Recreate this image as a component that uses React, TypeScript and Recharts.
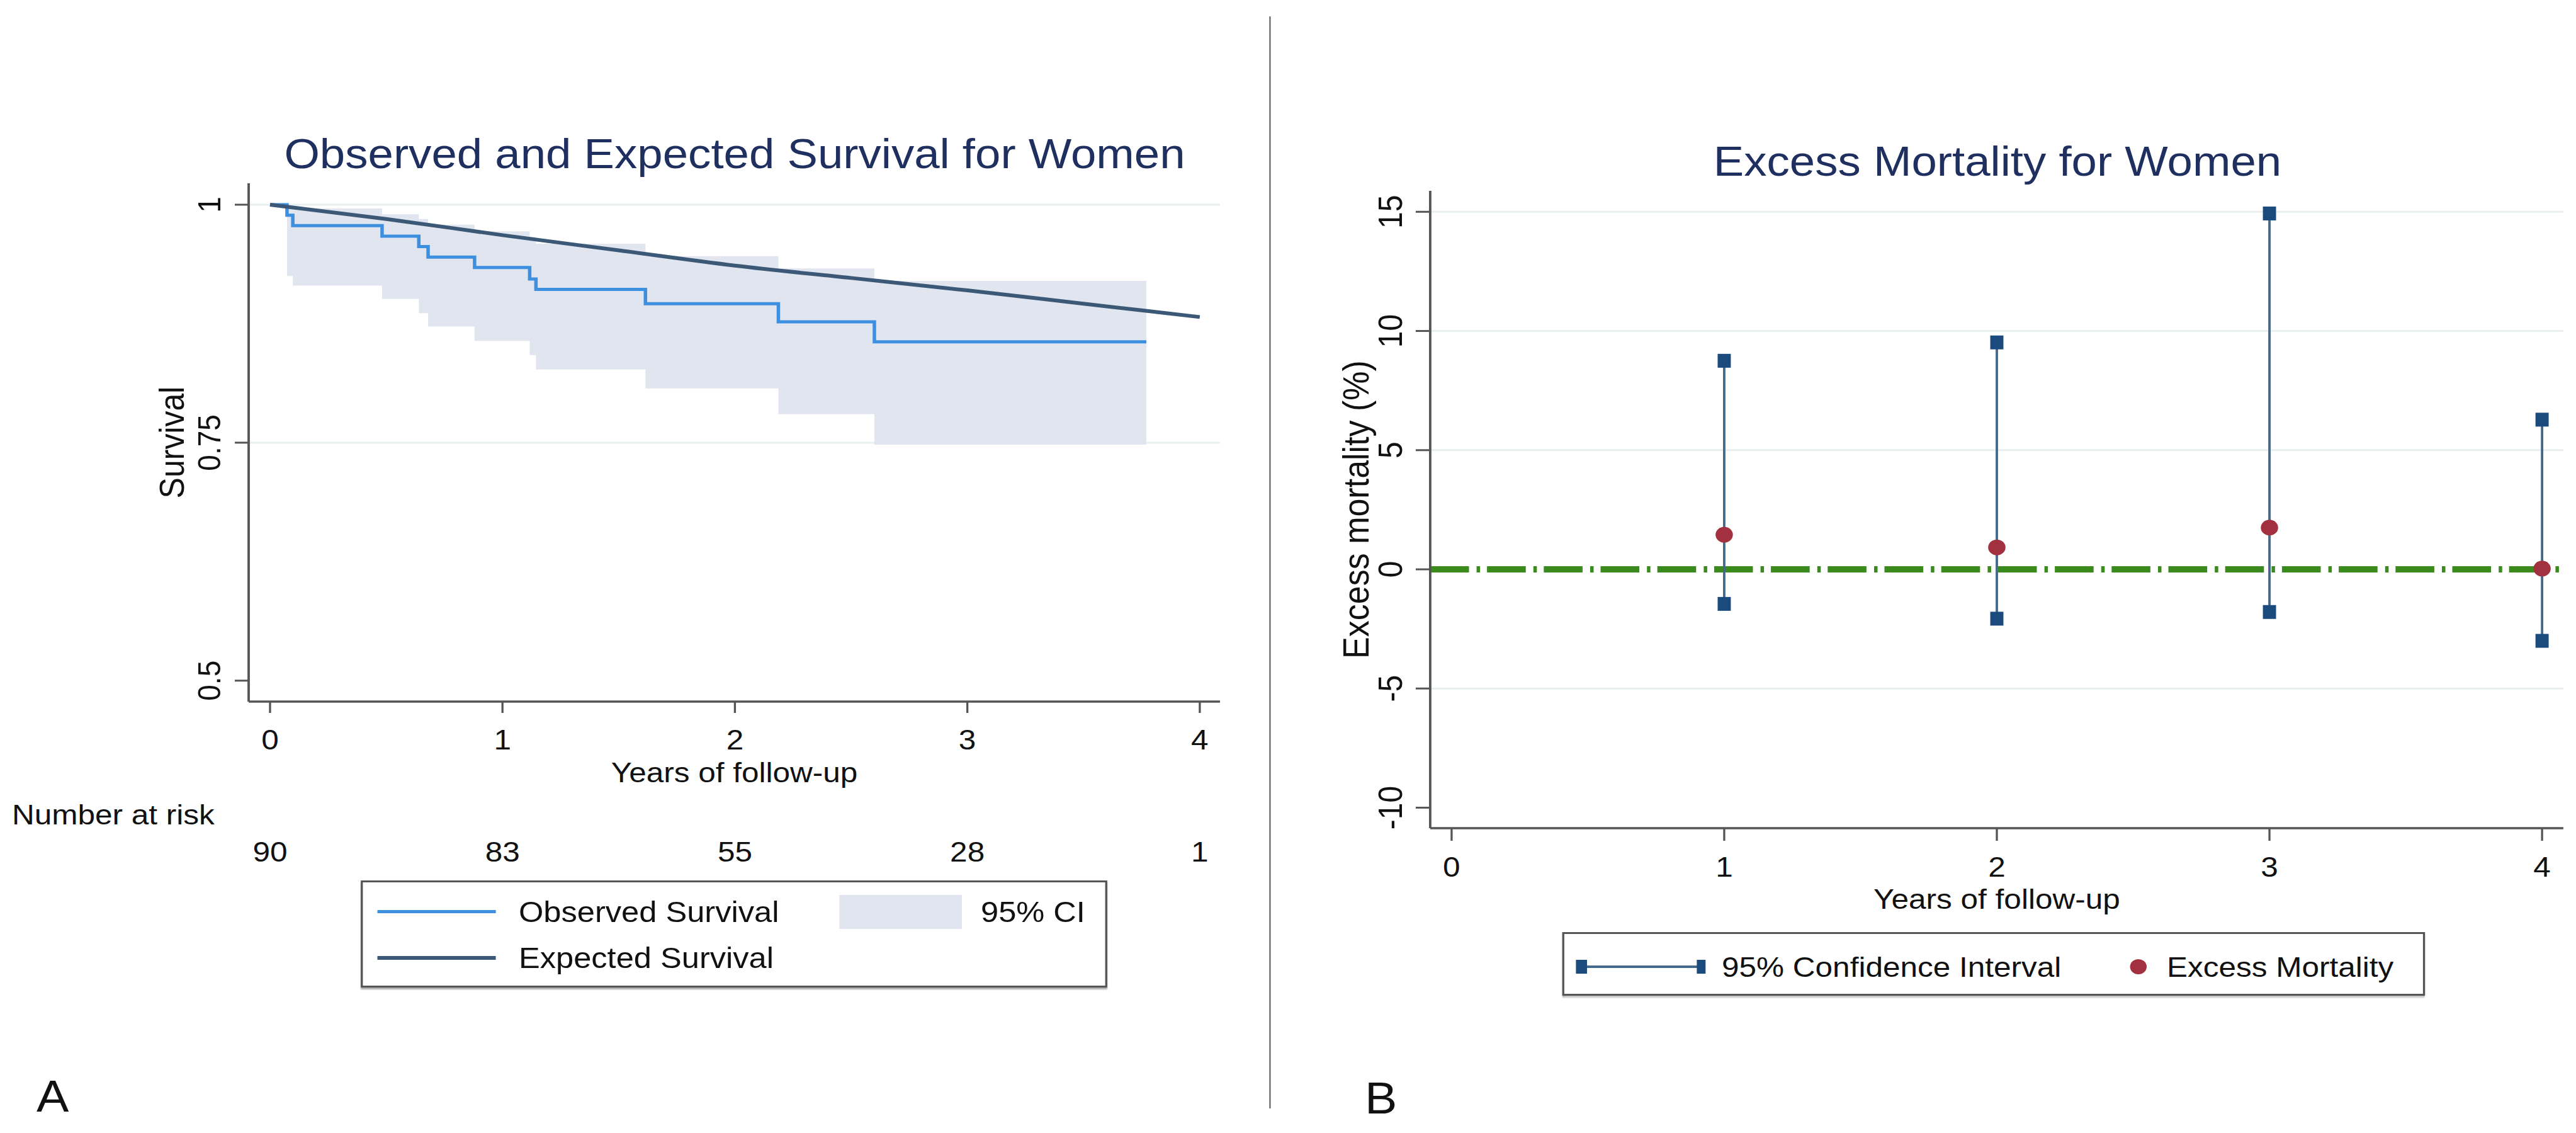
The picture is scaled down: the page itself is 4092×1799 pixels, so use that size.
import React from 'react';
import {
  ComposedChart,
  Line,
  Area,
  Scatter,
  XAxis,
  YAxis,
  CartesianGrid,
  ReferenceLine,
  Label,
} from 'recharts';

const FONT = '"Liberation Sans", Arial, sans-serif';
// the reference figure is stretched about 10% sideways, so we draw narrower and scale x
const SX = 1.1;
const px = (v: number) => v / SX;

// ---- Panel A: observed (Kaplan-Meier) vs expected survival
const kmTimes = [0, 0.073, 0.098, 0.482, 0.64, 0.68, 0.88, 1.117, 1.144, 1.615, 2.187, 2.6, 3.77];
const observedSurv = [1, 0.989, 0.978, 0.967, 0.956, 0.945, 0.934, 0.922, 0.911, 0.896, 0.877, 0.856, 0.856];
const ciLower = [1, 0.925, 0.915, 0.901, 0.886, 0.872, 0.857, 0.842, 0.827, 0.807, 0.78, 0.748, 0.748];
const ciUpper = [1, 0.998, 0.996, 0.99, 0.985, 0.979, 0.972, 0.966, 0.959, 0.946, 0.933, 0.92, 0.92];
const expectedTimes = [0, 0.5, 1, 1.5, 2, 2.5, 3, 3.5, 4];
const expectedSurv = [1, 0.985, 0.968, 0.952, 0.936, 0.923, 0.91, 0.896, 0.882];
const yearTicks = [0, 1, 2, 3, 4];
const numberAtRisk = [90, 83, 55, 28, 1];
const survTicks = [0.5, 0.75, 1];
const survGrid = [0.75, 1];

// ---- Panel B: excess mortality (%) by year
const years = [1, 2, 3, 4];
const excessMortality = [1.45, 0.92, 1.75, 0.03];
const emLower = [-1.45, -2.07, -1.79, -3.0];
const emUpper = [8.75, 9.52, 14.93, 6.28];
const emTicks = [-10, -5, 0, 5, 10, 15];
const emGrid = [-5, 5, 10, 15];

const bandData = kmTimes.map((t, i) => ({ t, ci: [ciLower[i], ciUpper[i]] }));
const observedData = kmTimes.map((t, i) => ({ t, s: observedSurv[i] }));
const expectedData = expectedTimes.map((t, i) => ({ t, s: expectedSurv[i] }));
const emData = years.map((year, i) => ({ year, em: excessMortality[i] }));

const C = {
  observed: '#3d8fe0',
  expected: '#3b5877',
  band: '#e1e5ef',
  grid: '#e8eff1',
  axis: '#555',
  title: '#1f3060',
  ci: '#44698d',
  ciEnd: '#1b4a7d',
  dot: '#a3303e',
  zero: '#3a8a1e',
};

function RotatedTick(props: any) {
  const { x, y, payload, fs } = props;
  return (
    <text
      x={x}
      y={y}
      transform={`rotate(-90 ${x} ${y})`}
      textAnchor="middle"
      fontSize={fs}
      fontFamily={FONT}
      fill="#111"
    >
      {payload.value}
    </text>
  );
}

const tickText = { fontSize: 45, fill: '#111', fontFamily: FONT };
const axisStyle = { stroke: C.axis, strokeWidth: 3.5 };

const abs = (left: number, top: number, extra: React.CSSProperties = {}): React.CSSProperties => ({
  position: 'absolute',
  left,
  top,
  fontFamily: FONT,
  lineHeight: 1,
  whiteSpace: 'nowrap',
  ...extra,
});

export default function App() {
  const leftW = px(2000);
  const rightLeft = px(2100);
  const rightW = px(1992);

  return (
    <div
      style={{
        position: 'absolute',
        left: 0,
        top: 0,
        width: px(4092),
        height: 1799,
        background: '#fff',
        transform: `scaleX(${SX})`,
        transformOrigin: '0 0',
        overflow: 'hidden',
      }}
    >
      {/* Panel A */}
      <div style={abs(px(1167) - 700, 211, { width: 1400, textAlign: 'center', fontSize: 66, color: C.title })}>
        Observed and Expected Survival for Women
      </div>
      <div style={{ position: 'absolute', left: 0, top: 0 }}>
        <ComposedChart
          width={leftW}
          height={1799}
          margin={{ top: 291, left: px(395) - 140, right: leftW - px(1938), bottom: 425 }}
        >
          <CartesianGrid vertical={false} horizontalValues={survGrid} stroke={C.grid} strokeWidth={3} />
          <XAxis
            dataKey="t"
            type="number"
            domain={[-0.092, 4.087]}
            ticks={yearTicks}
            allowDataOverflow
            interval={0}
            height={140}
            tickSize={18}
            tickMargin={26}
            axisLine={axisStyle}
            tickLine={{ stroke: C.axis, strokeWidth: 3 }}
            tick={tickText}
          >
            <Label value="Years of follow-up" position="insideBottom" offset={12} style={tickText} />
          </XAxis>
          <XAxis
            xAxisId="risk"
            dataKey="t"
            type="number"
            domain={[-0.092, 4.087]}
            ticks={yearTicks}
            allowDataOverflow
            interval={0}
            height={120}
            tickSize={6}
            tickMargin={76}
            axisLine={false}
            tickLine={false}
            tick={tickText}
            tickFormatter={(v: number) => String(numberAtRisk[yearTicks.indexOf(v)])}
          />
          <YAxis
            type="number"
            domain={[0.478, 1.0225]}
            ticks={survTicks}
            allowDataOverflow
            interval={0}
            width={140}
            tickSize={20}
            tickMargin={20.9}
            axisLine={axisStyle}
            tickLine={{ stroke: C.axis, strokeWidth: 3 }}
            tick={<RotatedTick fs={46} />}
          >
            <Label
              value="Survival"
              angle={-90}
              position="insideLeft"
              offset={28.6}
              style={{ textAnchor: 'middle', fontSize: 50, fill: '#111', fontFamily: FONT }}
            />
          </YAxis>
          <Area
            data={bandData}
            dataKey="ci"
            type="stepAfter"
            fill={C.band}
            fillOpacity={1}
            stroke="none"
            dot={false}
            activeDot={false}
            isAnimationActive={false}
          />
          <Line
            data={observedData}
            dataKey="s"
            type="stepAfter"
            stroke={C.observed}
            strokeWidth={5}
            dot={false}
            activeDot={false}
            isAnimationActive={false}
          />
          <Line
            data={expectedData}
            dataKey="s"
            type="monotone"
            stroke={C.expected}
            strokeWidth={6}
            dot={false}
            activeDot={false}
            isAnimationActive={false}
          />
        </ComposedChart>
      </div>
      <div style={abs(px(19), 1271, { fontSize: 45, color: '#111' })}>Number at risk</div>

      {/* legend A */}
      <div
        style={{
          position: 'absolute',
          left: px(573),
          top: 1398,
          width: px(1186),
          height: 170,
          boxSizing: 'border-box',
          border: '3px solid #555',
          boxShadow: '0 3px 2px #aaa',
          background: '#fff',
        }}
      >
        <div style={abs(px(26) - 3, 47 - 3, { width: px(189), height: 5, background: C.observed })} />
        <div style={abs(px(251) - 3, 50 - 3 - 23, { fontSize: 46, color: '#111' })}>Observed Survival</div>
        <div style={abs(px(760) - 3, 23 - 3, { width: px(195), height: 54, background: C.band })} />
        <div style={abs(px(985) - 3, 50 - 3 - 23, { fontSize: 46, color: '#111' })}>95% CI</div>
        <div style={abs(px(26) - 3, 120 - 3, { width: px(189), height: 6, background: C.expected })} />
        <div style={abs(px(251) - 3, 123 - 3 - 23, { fontSize: 46, color: '#111' })}>Expected Survival</div>
      </div>
      <div style={abs(px(58), 1706, { fontSize: 70, color: '#111' })}>A</div>

      {/* divider */}
      <div style={{ position: 'absolute', left: px(2016), top: 26, width: 2.7, height: 1734, background: '#666' }} />

      {/* Panel B */}
      <div style={abs(px(3173) - 700, 223, { width: 1400, textAlign: 'center', fontSize: 66, color: C.title })}>
        Excess Mortality for Women
      </div>
      <div style={{ position: 'absolute', left: rightLeft, top: 0 }}>
        <ComposedChart
          width={rightW}
          height={1799}
          margin={{ top: 303, left: px(2272) - rightLeft - 140, right: rightW - (px(4072) - rightLeft), bottom: 344 }}
        >
          <CartesianGrid vertical={false} horizontalValues={emGrid} stroke={C.grid} strokeWidth={3} />
          <XAxis
            dataKey="year"
            type="number"
            domain={[-0.0785, 4.078]}
            ticks={yearTicks}
            allowDataOverflow
            interval={0}
            height={140}
            tickSize={20}
            tickMargin={25}
            axisLine={axisStyle}
            tickLine={{ stroke: C.axis, strokeWidth: 3 }}
            tick={tickText}
          >
            <Label value="Years of follow-up" position="insideBottom" offset={12} style={tickText} />
          </XAxis>
          <YAxis
            type="number"
            domain={[-10.86, 15.88]}
            ticks={emTicks}
            allowDataOverflow
            interval={0}
            width={140}
            tickSize={20.9}
            tickMargin={20.1}
            axisLine={axisStyle}
            tickLine={{ stroke: C.axis, strokeWidth: 3 }}
            tick={<RotatedTick fs={48} />}
          >
            <Label
              value="Excess mortality (%)"
              angle={-90}
              position="insideLeft"
              offset={32.7}
              style={{ textAnchor: 'middle', fontSize: 52, fill: '#111', fontFamily: FONT }}
            />
          </YAxis>
          <ReferenceLine y={0} stroke={C.zero} strokeWidth={10} strokeDasharray="56 11 5 10" />
          {years.map((year, i) => (
            <Line
              key={year}
              data={[
                { year, v: emLower[i] },
                { year, v: emUpper[i] },
              ]}
              dataKey="v"
              type="linear"
              stroke={C.ci}
              strokeWidth={3.5}
              dot={(p: any) =>
                p.cy == null ? (
                  <g key={p.key ?? p.index} />
                ) : (
                  <rect key={p.key ?? p.index} x={p.cx - 9.5} y={p.cy - 11} width={19} height={22} fill={C.ciEnd} />
                )
              }
              activeDot={false}
              isAnimationActive={false}
            />
          ))}
          <Scatter
            data={emData}
            dataKey="em"
            isAnimationActive={false}
            shape={(p: any) => <circle cx={p.cx} cy={p.cy} r={12.5} fill={C.dot} />}
          />
        </ComposedChart>
      </div>

      {/* legend B */}
      <div
        style={{
          position: 'absolute',
          left: px(2482),
          top: 1480,
          width: px(1370),
          height: 101,
          boxSizing: 'border-box',
          border: '3px solid #555',
          boxShadow: '0 3px 2px #aaa',
          background: '#fff',
        }}
      >
        <svg style={{ position: 'absolute', left: px(14), top: 55 - 3 - 15 }} width={px(210)} height={30}>
          <line x1={px(13)} y1={15} x2={px(205)} y2={15} stroke={C.ci} strokeWidth={4} />
          <rect x={px(13) - 8} y={4} width={16} height={22} fill={C.ciEnd} />
          <rect x={px(205) - 8} y={4} width={16} height={22} fill={C.ciEnd} />
        </svg>
        <div style={abs(px(253) - 3, 55 - 3 - 22, { fontSize: 45, color: '#111' })}>95% Confidence Interval</div>
        <svg style={{ position: 'absolute', left: px(915) - 3 - 15, top: 55 - 3 - 15 }} width={30} height={30}>
          <circle cx={15} cy={15} r={12} fill={C.dot} />
        </svg>
        <div style={abs(px(960) - 3, 55 - 3 - 22, { fontSize: 45, color: '#111' })}>Excess Mortality</div>
      </div>
      <div style={abs(px(2168), 1709, { fontSize: 70, color: '#111' })}>B</div>
    </div>
  );
}
